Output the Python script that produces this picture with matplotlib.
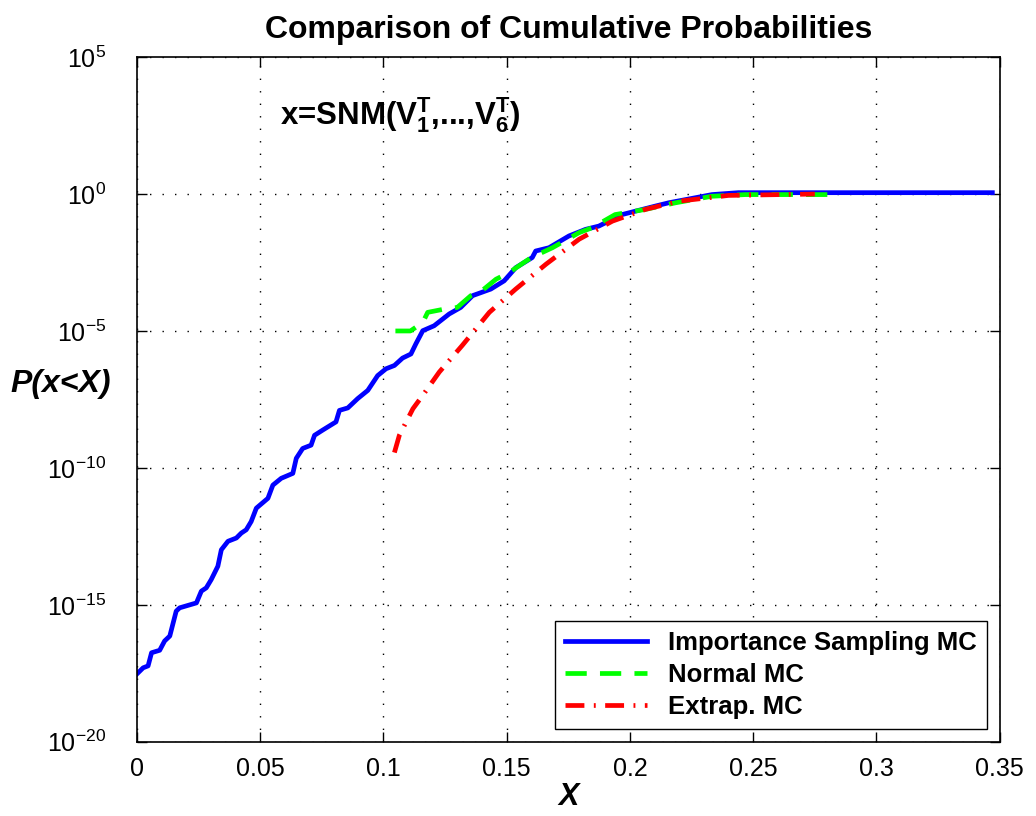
import matplotlib
matplotlib.use("Agg")
import matplotlib.pyplot as plt
import numpy as np

plt.rcParams["font.family"] = ["Liberation Sans", "DejaVu Sans"]
plt.rcParams["mathtext.fontset"] = "custom"
plt.rcParams["mathtext.rm"] = "Liberation Sans"
plt.rcParams["mathtext.bf"] = "Liberation Sans:bold"
plt.rcParams["mathtext.it"] = "Liberation Sans:italic"

# Importance sampling MC (x, log10 P)
is_x = [0.0, 0.0026, 0.0046, 0.006, 0.0093, 0.0113, 0.0134, 0.016, 0.0174, 0.0242,
        0.0262, 0.0282, 0.0302, 0.0329, 0.0343, 0.037, 0.0404, 0.0424, 0.0444, 0.0464,
        0.0485, 0.0532, 0.0552, 0.0586, 0.0633, 0.0647, 0.0673, 0.0707, 0.0721, 0.0754,
        0.0808, 0.0822, 0.0856, 0.0896, 0.0937, 0.0977, 0.1011, 0.1045, 0.1078, 0.1112,
        0.1132, 0.116, 0.1206, 0.1267, 0.1314, 0.1362, 0.1436, 0.149, 0.1537, 0.1604,
        0.1618, 0.1672, 0.1753, 0.182, 0.1874, 0.1968, 0.2103, 0.2157, 0.2333, 0.244,
        0.30, 0.347]
is_logp = [-17.53, -17.3, -17.23, -16.75, -16.66, -16.32, -16.14, -15.23, -15.11, -14.93,
           -14.5, -14.38, -14.08, -13.59, -12.99, -12.68, -12.56, -12.38, -12.26, -11.96,
           -11.47, -11.11, -10.63, -10.38, -10.2, -9.65, -9.29, -9.17, -8.81, -8.62,
           -8.32, -7.9, -7.81, -7.47, -7.17, -6.63, -6.38, -6.26, -5.99, -5.84,
           -5.47, -4.99, -4.81, -4.38, -4.14, -3.71, -3.47, -3.17, -2.69, -2.32,
           -2.08, -1.96, -1.53, -1.29, -1.17, -0.75, -0.44, -0.32, -0.02, 0.05,
           0.05, 0.05]

# Normal MC
nmc_x = [0.1049, 0.111, 0.116, 0.118, 0.1248, 0.130, 0.1355, 0.140, 0.1457, 0.151,
         0.156, 0.160, 0.1686, 0.1733, 0.1794, 0.1847, 0.194, 0.2063, 0.2185, 0.2333,
         0.2468, 0.282]
nmc_logp = [-5.0, -5.0, -4.69, -4.32, -4.2, -4.14, -3.71, -3.53, -3.11, -2.87,
            -2.56, -2.32, -1.96, -1.72, -1.41, -1.23, -0.75, -0.56, -0.32, -0.08,
            -0.02, -0.02]

# Extrapolated MC
ext_x = [0.1045, 0.1065, 0.112, 0.116, 0.1227, 0.132, 0.143, 0.1537, 0.166, 0.1794,
         0.1929, 0.2063, 0.22, 0.24, 0.275]
ext_logp = [-9.44, -8.81, -7.84, -7.35, -6.5, -5.53, -4.32, -3.47, -2.56, -1.65,
            -0.99, -0.56, -0.26, -0.05, 0.0]

fig = plt.figure(figsize=(10.36, 8.16), dpi=100)
ax = fig.add_axes([0.132, 0.091, 0.833, 0.839])

ax.semilogy(is_x, 10.0 ** np.array(is_logp), color="#0000FF", lw=3.4,
            label="Importance Sampling MC")
ax.semilogy(nmc_x, 10.0 ** np.array(nmc_logp), color="#00FF00", lw=3.4,
            dashes=(4.5, 2.8), label="Normal MC")
ax.semilogy(ext_x, 10.0 ** np.array(ext_logp), color="#FF0000", lw=3.4,
            dashes=(4.0, 2.0, 0.4, 2.0), label="Extrap. MC")

ax.set_xlim(0, 0.35)
ax.set_ylim(1e-20, 1e5)
ax.set_xticks(np.arange(0, 0.351, 0.05))
ax.set_xticklabels(["0", "0.05", "0.1", "0.15", "0.2", "0.25", "0.3", "0.35"])
ax.set_yticks([1e-20, 1e-15, 1e-10, 1e-5, 1e0, 1e5])
ax.yaxis.set_minor_locator(matplotlib.ticker.NullLocator())
ax.tick_params(direction="in", length=7, width=1, top=True, right=True,
               labelsize=18)
ax.tick_params(axis="x", pad=11)
ax.tick_params(axis="y", pad=22)
ax.grid(True, color="black", linestyle=(0, (1, 8)), linewidth=1.0)
for s in ax.spines.values():
    s.set_linewidth(1.2)

ax.set_title("Comparison of Cumulative Probabilities", fontsize=23,
             fontweight="bold", pad=14)
ax.set_xlabel("X", fontsize=22, fontweight="bold", style="italic", labelpad=1)
ax.set_ylabel("P(x<X)", fontsize=23, fontweight="bold", style="italic",
              rotation=0, ha="left", va="center")
ax.yaxis.set_label_coords(-0.146, 0.523)

ax.text(0.166, 0.915, r"x=SNM($\mathbf{V_1^T}$,...,$\mathbf{V_6^T}$)",
        transform=ax.transAxes, fontsize=22.5, fontweight="bold",
        va="center", ha="left")

leg = ax.legend(loc="lower right", prop={"weight": "bold", "size": 18.5},
                fancybox=False, framealpha=1, edgecolor="black",
                handlelength=3.2, borderaxespad=0.5, labelspacing=0.3)
leg.get_frame().set_linewidth(1.0)

fig.savefig("out.png", dpi=100)
